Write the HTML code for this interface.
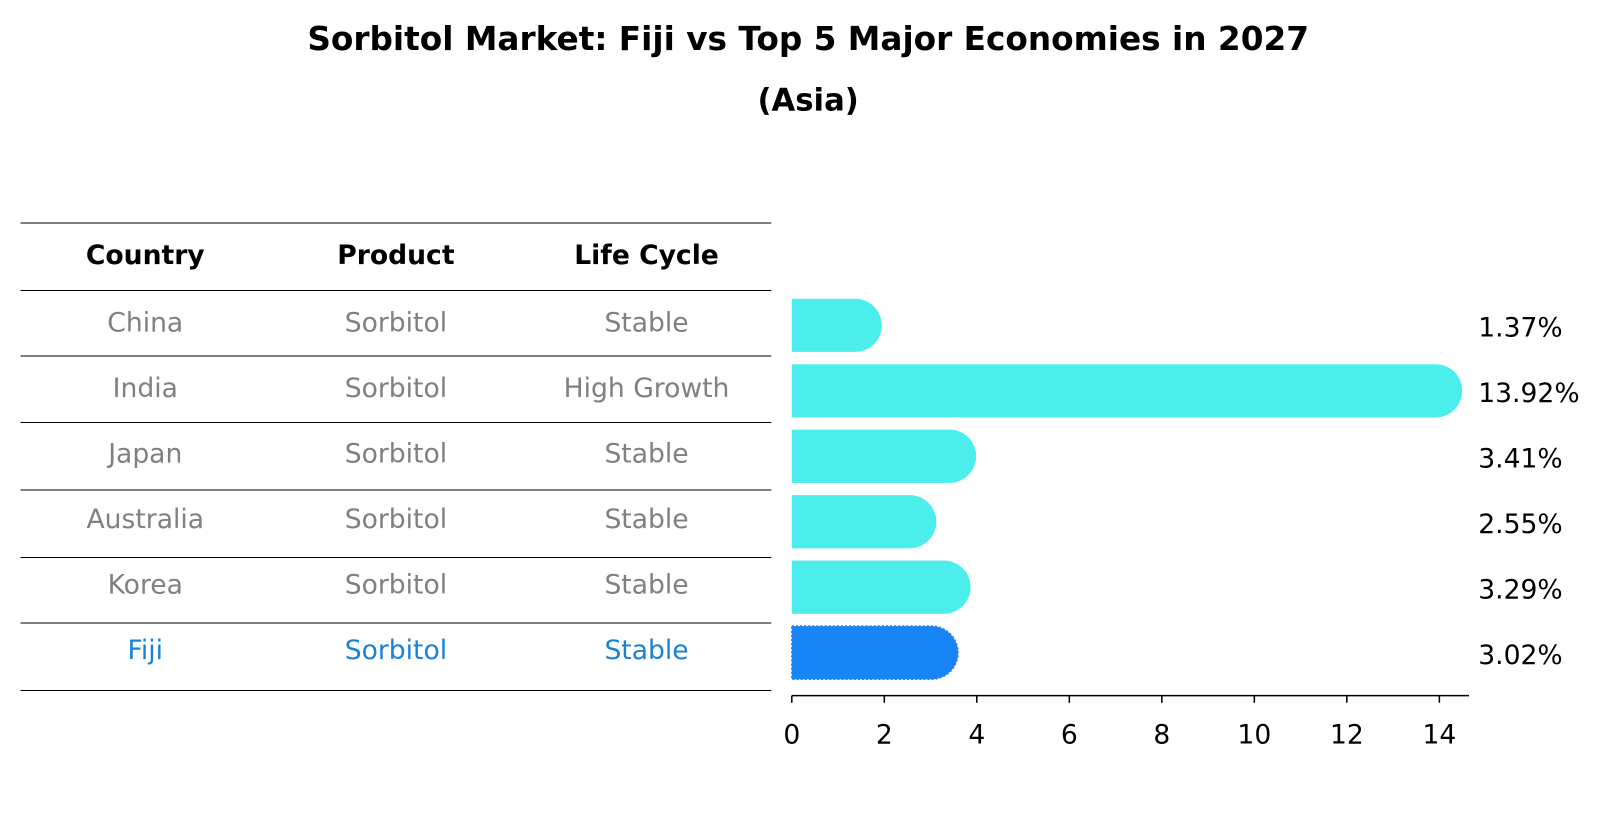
<!DOCTYPE html>
<html><head><meta charset="utf-8"><style>
body{margin:0;background:#fff;font-family:"Liberation Sans","DejaVu Sans",sans-serif;}
#wrap{position:relative;width:1604px;height:823px;overflow:hidden;}
</style></head><body>
<div id="wrap">
<svg id="svg" width="1604" height="823" xmlns="http://www.w3.org/2000/svg">
<g transform="scale(1.023)">
<text x="790" y="49" text-anchor="middle" font-size="32" font-weight="bold" font-family="DejaVu Sans, sans-serif">Sorbitol Market: Fiji vs Top 5 Major Economies in 2027</text>
<text x="790" y="108" text-anchor="middle" font-size="30" font-weight="bold" font-family="DejaVu Sans, sans-serif">(Asia)</text>
<g id="table"></g>
<g id="bars"></g>
</g>
</svg>
</div>
<script>
const countries=["China","India","Japan","Australia","Korea","Fiji"];
const products=["Sorbitol","Sorbitol","Sorbitol","Sorbitol","Sorbitol","Sorbitol"];
const lifeCycles=["Stable","High Growth","Stable","Stable","Stable","Stable"];
const values=[1.37,13.92,3.41,2.55,3.29,3.02];
const ticks=[0,2,4,6,8,10,12,14];
const NS="http://www.w3.org/2000/svg";
const tg=document.getElementById('table'),bg=document.getElementById('bars');
function mk(tag,attrs,parent){const e=document.createElementNS(NS,tag);for(const k in attrs)e.setAttribute(k,attrs[k]);parent.appendChild(e);return e;}
const x0=774,scale=633/14;
function xs(v){return x0+v*scale;}
function rowY(i){return 318+i*64;}
const F="DejaVu Sans, sans-serif";
const FS=26;
const lines=[218,284,348,413,479,545,609,675];
lines.forEach((y)=>{const l=mk('line',{x1:20,x2:754,y1:y,y2:y,stroke:'#000','stroke-width':1},tg);

});
const cx=[142,387,632];
["Country","Product","Life Cycle"].forEach((h,j)=>{const t=mk('text',{x:cx[j],y:258,'text-anchor':'middle','font-size':FS,'font-weight':'bold','font-family':F},tg);t.textContent=h;

});
countries.forEach((c,i)=>{const col=i===countries.length-1?'#1a82d6':'#808080';
[c,products[i],lifeCycles[i]].forEach((s,j)=>{const t=mk('text',{x:cx[j],y:rowY(i)+6,'text-anchor':'middle','font-size':FS,fill:col,'font-family':F},tg);t.textContent=s;

});});
const h=52,r=26;
values.forEach((v,i)=>{const fiji=i===values.length-1;const col=fiji?'#1785f5':'#4beeea';
const y=rowY(i)-h/2;const xe=xs(v);
const p=mk('path',{d:`M${x0},${y} H${xe} A${r},${r} 0 0 1 ${xe},${y+h} H${x0} Z`,fill:col},bg);
if(fiji){p.setAttribute('stroke','#3a7fd8');p.setAttribute('stroke-dasharray','2,2');p.setAttribute('stroke-width','1.5');}


const t=mk('text',{x:1445,y:rowY(i)+11,'font-size':FS,'font-family':F},bg);t.textContent=v.toFixed(2)+'%';

});
const ax=mk('line',{x1:x0,x2:1436,y1:680,y2:680,stroke:'#000','stroke-width':1.5},bg);


ticks.forEach(tv=>{const tk=mk('line',{x1:xs(tv),x2:xs(tv),y1:680,y2:687,stroke:'#000','stroke-width':1.5},bg);


const t=mk('text',{x:xs(tv),y:727,'text-anchor':'middle','font-size':FS,'font-family':F},bg);t.textContent=tv;

});
</script>
</body></html>
